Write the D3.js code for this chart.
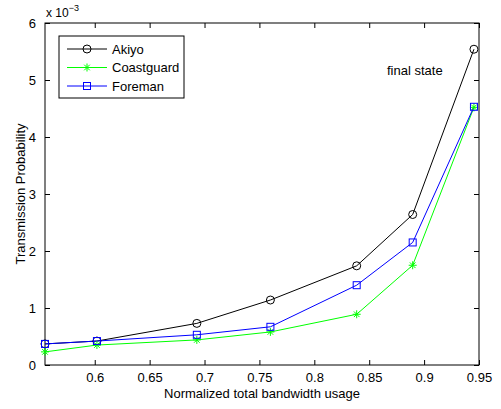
<!DOCTYPE html>
<html>
<head>
<meta charset="utf-8">
<script src="https://cdn.jsdelivr.net/npm/d3@7"></script>
<style>
  body { margin: 0; background: #fff; }
  svg text { font-family: "Liberation Sans", Arial, sans-serif; fill: #000; }
</style>
</head>
<body>
<div id="chart"></div>
<script>
// data (y in units of 1e-3)
const bandwidth = [0.5547, 0.602, 0.693, 0.760, 0.8386, 0.8896, 0.9454];
const akiyo = [0.37, 0.42, 0.73, 1.14, 1.74, 2.64, 5.54];
const coastguard = [0.23, 0.35, 0.44, 0.58, 0.89, 1.75, 4.52];
const foreman = [0.37, 0.42, 0.53, 0.67, 1.40, 2.15, 4.53];
const xTicks = [0.6, 0.65, 0.7, 0.75, 0.8, 0.85, 0.9, 0.95];
const yTicks = [0, 1, 2, 3, 4, 5, 6];
const seriesNames = ["Akiyo", "Coastguard", "Foreman"];

const W = 501, H = 409;
const m = { left: 45, right: 22, top: 23, bottom: 44 };
const iw = W - m.left - m.right, ih = H - m.top - m.bottom;

const x = d3.scaleLinear().domain([0.5547, 0.95]).range([0, iw]);
const y = d3.scaleLinear().domain([0, 6]).range([ih, 0]);

const svg = d3.select("#chart").append("svg").attr("width", W).attr("height", H);
const g = svg.append("g").attr("transform", "translate(" + m.left + "," + m.top + ")");

// axes: ticks inside, mirrored on top/right
function styleAxis(sel) {
  sel.select(".domain").remove();
  sel.selectAll(".tick line").attr("stroke", "#000");
  sel.selectAll(".tick text").style("font-size", "13px");
}
g.append("g").attr("transform", "translate(0," + ih + ")")
  .call(d3.axisBottom(x).tickValues(xTicks).tickSize(-5).tickPadding(8).tickFormat(d3.format("")))
  .call(styleAxis);
g.append("g")
  .call(d3.axisTop(x).tickValues(xTicks).tickSize(-5).tickFormat(""))
  .call(styleAxis);
g.append("g")
  .call(d3.axisLeft(y).tickValues(yTicks).tickSize(-5).tickPadding(9).tickFormat(d3.format("d")))
  .call(styleAxis);
g.append("g").attr("transform", "translate(" + iw + ",0)")
  .call(d3.axisRight(y).tickValues(yTicks).tickSize(-5).tickFormat(""))
  .call(styleAxis);

g.append("rect").attr("width", iw).attr("height", ih)
  .attr("fill", "none").attr("stroke", "#000").attr("stroke-width", 1);

const line = d3.line().x((d, i) => x(bandwidth[i])).y(d => y(d));

const series = [
  { name: seriesNames[0], values: akiyo, color: "#000000", marker: "circle" },
  { name: seriesNames[1], values: coastguard, color: "#00ff00", marker: "star" },
  { name: seriesNames[2], values: foreman, color: "#0000ff", marker: "square" }
];

function drawMarker(sel, type, color) {
  if (type === "circle") {
    sel.append("circle").attr("r", 4).attr("fill", "none").attr("stroke", color);
  } else if (type === "square") {
    sel.append("rect").attr("x", -3.5).attr("y", -3.5).attr("width", 7).attr("height", 7)
      .attr("fill", "none").attr("stroke", color);
  } else {
    const r = 4;
    const p = "M" + -r + ",0L" + r + ",0M0," + -r + "L0," + r +
      "M" + -r * 0.7 + "," + -r * 0.7 + "L" + r * 0.7 + "," + r * 0.7 +
      "M" + -r * 0.7 + "," + r * 0.7 + "L" + r * 0.7 + "," + -r * 0.7;
    sel.append("path").attr("d", p).attr("stroke", color).attr("fill", "none");
  }
}

series.forEach(s => {
  g.append("path").datum(s.values).attr("d", line)
    .attr("fill", "none").attr("stroke", s.color).attr("stroke-width", 1);
});
series.forEach(s => {
  g.selectAll(null).data(s.values).enter().append("g")
    .attr("transform", (d, i) => "translate(" + x(bandwidth[i]) + "," + y(d) + ")")
    .each(function () { drawMarker(d3.select(this), s.marker, s.color); });
});

// legend
const lg = svg.append("g").attr("transform", "translate(59,36)");
lg.append("rect").attr("width", 125).attr("height", 62)
  .attr("fill", "#fff").attr("stroke", "#000");
series.forEach((s, i) => {
  const row = lg.append("g").attr("transform", "translate(0," + (13 + i * 18.5) + ")");
  row.append("line").attr("x1", 8).attr("x2", 48).attr("stroke", s.color);
  drawMarker(row.append("g").attr("transform", "translate(28,0)"), s.marker, s.color);
  row.append("text").attr("x", 53).attr("dy", "0.35em").style("font-size", "13px").text(s.name);
});

// annotations
svg.append("text").attr("x", 387).attr("y", 75).style("font-size", "13px").text("final state");
const ex = svg.append("text").attr("x", 46).attr("y", 17).style("font-size", "12px");
ex.append("tspan").text("x 10");
ex.append("tspan").attr("dy", -6).style("font-size", "9px").text("\u22123");

svg.append("text").attr("x", m.left + iw / 2).attr("y", 398)
  .attr("text-anchor", "middle").style("font-size", "13px")
  .text("Normalized total bandwidth usage");
svg.append("text")
  .attr("transform", "translate(25," + (m.top + ih / 2) + ") rotate(-90)")
  .attr("text-anchor", "middle").style("font-size", "13px")
  .text("Transmission Probability");
</script>
</body>
</html>
